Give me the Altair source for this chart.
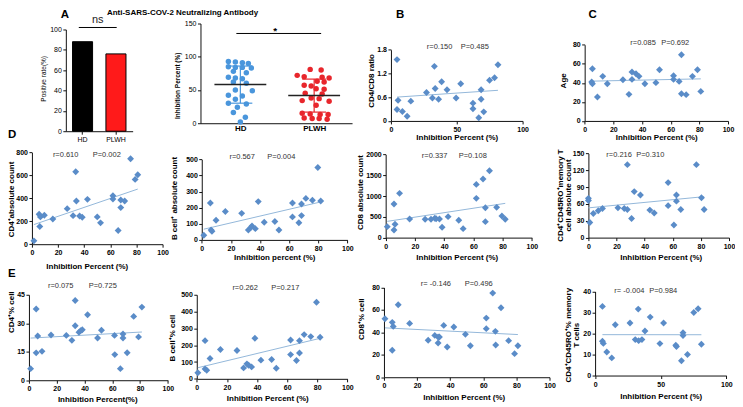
import altair as alt
import pandas as pd

# ---------------- data ----------------
bar_groups = ["HD", "PLWH"]
bar_positive_rate = [88, 76]

hd_inhibition = [93, 92, 91, 90, 85, 84, 84, 83, 78, 76, 69, 68, 67, 62, 60, 50, 49, 42, 41, 36, 30, 29, 24, 16, 9, 2]
hd_jitter_px = [-12, -5, 2, 8, -12, -5, 2, 11, -7, 6, -12, -5, 2, -7, 6, -5, 12, -12, 2, -5, -12, 6, -3, -7, 5, 0]
plwh_inhibition = [81, 80, 72, 70, 69, 68, 63, 62, 57, 56, 52, 51, 45, 44, 38, 37, 34, 33, 27, 15, 14, 13, 13, 8, 7, 7, 6]
plwh_jitter_px = [-4, 7, -17, -10, 8, 15, 3, 10, -10, -3, 2, 10, -9, 8, -3, 5, -12, 15, 2, -12, -4, 6, 14, -10, -2, 5, 13]

b_x = [4.6, 5.4, 4.6, 8.7, 12.3, 15.1, 27, 31.5, 33, 33.6, 36.2, 38.5, 42.6, 49.5, 53, 62.3, 62.3, 66.7, 68.5, 68.5, 70.5, 74.9, 78.7, 81.3]
b_y = [1.55, 0.52, 0.29, 0.24, 0.12, 0.50, 0.72, 0.58, 1.38, 0.82, 0.55, 0.99, 0.79, 0.58, 0.94, 0.45, 0.31, 0.08, 0.79, 0.55, 0.23, 1.03, 1.09, 1.42]

c_x = [5.4, 4.9, 5.4, 8.9, 12.6, 15.8, 26.7, 30.9, 33, 33, 35.8, 37.9, 42, 49.7, 52.2, 62, 62, 65.9, 67.5, 67.5, 70.8, 75.2, 78.7, 81]
c_y = [54.8, 40.9, 39.1, 25.1, 46.8, 39.1, 43.3, 27.9, 51.3, 43.6, 49.6, 46.8, 39.1, 40.2, 53.8, 47.5, 43.6, 41.5, 69.5, 28.6, 27.6, 46.8, 53.8, 31]

d1_x = [1.5, 5.5, 6, 6.5, 9.5, 16, 27, 31.5, 33.5, 34, 36.5, 38.5, 42.5, 50, 52.5, 62, 62, 66, 68, 68, 71, 75.5, 79, 81]
d1_y = [29, 261, 154, 238, 252, 220, 310, 249, 632, 377, 246, 235, 391, 238, 186, 423, 394, 119, 319, 386, 377, 745, 565, 606]

d2_x = [1.4, 5.9, 6.4, 7, 9.8, 16.2, 27.4, 32, 33.8, 34.5, 36.8, 38.8, 42.9, 50.2, 53, 62.3, 62.3, 66.7, 68.5, 68.5, 71.5, 76, 79.7, 81.7]
d2_y = [29, 229, 62, 54, 122, 176, 165, 62, 78, 87, 70, 238, 110, 114, 62, 229, 143, 107, 223, 151, 258, 246, 450, 242]

d3_x = [1.1, 5.7, 5.7, 6.4, 9.5, 16.4, 27, 31, 33.6, 34.5, 36.8, 38.6, 42.7, 50, 53, 62, 62, 66.6, 68.2, 68.2, 71, 75.9, 79.5, 81.8]
d3_y = [264, 808, 184, 320, 1064, 448, 440, 440, 464, 452, 448, 248, 504, 416, 216, 1280, 944, 1408, 720, 384, 1608, 728, 520, 440]

d4_x = [0, 0, 1, 3.5, 7, 10, 21, 25.5, 27.7, 27.7, 30.7, 32.6, 37, 43.7, 46.8, 56.7, 56.7, 60.8, 62.6, 62.6, 65.7, 76.8, 80.4, 82.3]
d4_y = [70, 66, 27, 43, 48, 52, 53, 52, 50, 130, 34, 82, 76, 49, 44, 98, 57, 22.5, 76, 65, 50, 130, 71, 50]

e1_x = [1.2, 5.2, 5.2, 6.3, 9.4, 15.9, 26.9, 30.9, 33.3, 33.3, 36, 37.2, 38.4, 42.2, 49.4, 52.2, 61.6, 61.8, 65.8, 67.7, 67.7, 70.7, 75.4, 78.9, 81.3]
e1_y = [6.1, 37.5, 14.4, 23.3, 15.2, 23.8, 23.6, 21, 42, 28.7, 25.2, 26.1, 26.6, 34.5, 22.2, 26.3, 23.6, 13.5, 6.1, 24.3, 22.2, 14.5, 33.6, 22.8, 38.5]

e2_x = [0.7, 5.5, 5.5, 6.6, 8.8, 15.7, 26.7, 31.1, 33.3, 34.4, 36.4, 38.6, 42.6, 49.7, 52.8, 62.3, 62.3, 66.2, 68.2, 68.2, 71.3, 75.7, 79.5, 81.9]
e2_y = [36, 227, 59, 51, 121, 174, 168, 65, 89, 81, 71, 241, 111, 115, 63, 231, 144, 109, 227, 154, 263, 251, 455, 247]

e3_x = [0.6, 5, 5, 5.6, 8.6, 15.5, 26.7, 30.7, 32.7, 32.7, 33.5, 36.1, 38.2, 42.2, 49.2, 52.2, 61.8, 61.8, 65.7, 67.3, 67.5, 70.7, 75.3, 78.9, 80.9]
e3_y = [52.1, 48.9, 24, 45.3, 64.6, 48, 32.9, 37.3, 35.9, 30.5, 35.9, 46.2, 27, 44.7, 38.2, 28.1, 52.7, 43.3, 75, 40.9, 28.7, 61.9, 32.6, 21, 28.1]

e4_x = [5.6, 5.6, 6.3, 8.9, 12.7, 15.4, 26.6, 30.6, 32.9, 33.2, 35.7, 38, 42, 49.4, 52.2, 61.5, 62, 65.8, 67, 67, 70.4, 75.2, 78.5, 81]
e4_y = [32.9, 16.3, 15.3, 11.2, 8.4, 24.2, 25, 17.1, 31.6, 16.6, 17.1, 21.2, 27.8, 15.2, 25, 14.4, 13.8, 7, 20.4, 19, 10, 30, 31.8, 14.9]

# ---------------- styling / layout ----------------
FONT = "Liberation Sans"
PT = "#5a8cc8"
TREND = "#94b8da"
HD_C = "#4a96dc"
PL_C = "#e8262c"
AX = "#111111"
PLAIN = "'' + datum.value"

COLS = [8, 175, 370, 570, 737]
ROWS = [8, 140, 280, 400]
X100 = [0, 20, 40, 60, 80, 100]


def geom(col, row):
    return COLS[col], ROWS[row], COLS[col + 1] - COLS[col], ROWS[row + 1] - ROWS[row]


def note(s, x, y, size=7.5, weight="normal", align="left", baseline="middle", color="#333333"):
    return alt.Chart(pd.DataFrame({"t": [s]})).mark_text(
        align=align, baseline=baseline, fontSize=size, fontWeight=weight, color=color, font=FONT
    ).encode(x=alt.value(x), y=alt.value(y), text="t:N")


def scatter(p):
    cx, cy, cw, ch = geom(p["col"], p["row"])
    l, t, r, b = p["rect"]
    df = pd.DataFrame({"x": p["x"], "y": p["y"]})
    xax = alt.Axis(values=p.get("xticks", X100), title=p["xtitle"], offset=-(ch - (b - cy)), labelExpr=PLAIN,
                   titleX=p["xt"][0] - cx, titleY=p["xt"][1] - b)
    yax = alt.Axis(values=p["yticks"], title=p["ytitle"], offset=-(l - cx), labelExpr=PLAIN,
                   titleX=p["yt"][0] - l, titleY=p["yt"][1] - cy, titleAngle=270)
    enc = dict(
        x=alt.X("x:Q", scale=alt.Scale(domain=[0, 100], range=[l - cx, r - cx], nice=False, zero=False), axis=xax),
        y=alt.Y("y:Q", scale=alt.Scale(domain=p["ydom"], range=[b - cy, t - cy], nice=False, zero=False), axis=yax),
    )
    base = alt.Chart(df)
    trend = base.transform_regression("x", "y").mark_line(color=TREND, strokeWidth=1).encode(**enc)
    pts = base.mark_point(shape="diamond", filled=True, size=48, color=PT, opacity=1).encode(**enc)
    layers = [trend, pts,
              note(p["r"], p["rxy"][0] - cx, p["rxy"][1] - cy),
              note(p["p"], p["pxy"][0] - cx, p["pxy"][1] - cy)]
    if "letter" in p:
        s, lx, ly = p["letter"]
        layers.append(note(s, lx - cx, ly - cy, size=11.5, weight="bold", baseline="top", color="#000"))
    return alt.layer(*layers).properties(width=cw, height=ch)


def bar_panel():
    cx, cy, cw, ch = geom(0, 0)
    l, t, r, b = 66, 29, 133, 131
    df = pd.DataFrame({"g": bar_groups, "v": bar_positive_rate})
    x = alt.X("g:N", sort=bar_groups,
              scale=alt.Scale(range=[l - cx, r - cx], paddingInner=0.4, paddingOuter=0.2),
              axis=alt.Axis(title=None, labelAngle=0, labelFontWeight="normal", labelFontSize=7,
                            offset=-(ch - (b - cy)), labelPadding=1))
    y = alt.Y("v:Q", scale=alt.Scale(domain=[0, 100], range=[b - cy, t - cy], nice=False),
              axis=alt.Axis(values=[0, 20, 40, 60, 80, 100], title="Positive rate(%)", titleFontWeight="normal",
                            titleFontSize=6.5, labelFontWeight="normal", offset=-(l - cx), labelExpr=PLAIN,
                            titleX=44 - l, titleY=78 - cy, titleAngle=270))
    bars = alt.Chart(df).mark_bar(stroke="#000", strokeWidth=1).encode(
        x=x, y=y,
        color=alt.Color("g:N", scale=alt.Scale(domain=bar_groups, range=["#000000", "#ff1a1a"]), legend=None))
    anchor = alt.Chart(pd.DataFrame({"a": [0]})).mark_rect(opacity=0).encode(
        x=alt.value(0), x2=alt.value(1), y=alt.value(0), y2=alt.value(1))
    bracket = alt.Chart(pd.DataFrame({"a": [0]})).mark_rule(color="#000", strokeWidth=1).encode(
        x=alt.value(79 - cx), x2=alt.value(117 - cx), y=alt.value(27 - cy))
    return alt.layer(
        anchor, bars, bracket,
        note("ns", 98 - cx, 22 - cy, size=11, align="center", baseline="alphabetic", color="#222"),
        note("A", 61 - cx, 8 - cy, size=11.5, weight="bold", baseline="top", color="#000"),
    ).properties(width=cw, height=ch)


def dot_panel():
    cx, cy, cw, ch = geom(1, 0)
    l, t, r, b = 201, 23, 353, 123
    hd_c, pl_c = 241, 315
    step = pl_c - hd_c
    xdom = [1 - (hd_c - l) / step, 2 + (r - pl_c) / step]
    df = pd.DataFrame({
        "cohort": ["HD"] * len(hd_inhibition) + ["PLWH"] * len(plwh_inhibition),
        "gx": [1] * len(hd_inhibition) + [2] * len(plwh_inhibition),
        "val": hd_inhibition + plwh_inhibition,
        "pos": [1 + j / step for j in hd_jitter_px] + [2 + j / step for j in plwh_jitter_px],
    })
    xs = alt.Scale(domain=xdom, range=[l - cx, r - cx], nice=False, zero=False)
    ys = alt.Scale(domain=[0, 150], range=[b - cy, t - cy], nice=False, zero=False)
    xax = alt.Axis(values=[1, 2], labelExpr="datum.value == 1 ? 'HD' : 'PLWH'", title=None, ticks=False,
                   labelPadding=1, labelFontSize=8, offset=-(ch - (b - cy)))
    yax = alt.Axis(values=[0, 50, 100, 150], title="Inhibition Percent  (%)", titleFontSize=6.5, labelExpr=PLAIN,
                   labelFontWeight="normal", offset=-(l - cx), titleX=178 - l, titleY=85 - cy, titleAngle=270)
    col = alt.Color("cohort:N", scale=alt.Scale(domain=["HD", "PLWH"], range=[HD_C, PL_C]), legend=None)
    pts = alt.Chart(df).mark_circle(size=30, opacity=1).encode(
        x=alt.X("pos:Q", scale=xs, axis=xax), y=alt.Y("val:Q", scale=ys, axis=yax), color=col)
    summ = alt.Chart(df).transform_aggregate(
        m="mean(val)", s="stdev(val)", groupby=["cohort", "gx"]
    ).transform_calculate(
        lo="datum.m - datum.s", hi="datum.m + datum.s",
        ma=f"datum.gx - {26 / step}", mb=f"datum.gx + {26 / step}",
        ca=f"datum.gx - {12 / step}", cb=f"datum.gx + {12 / step}")
    sd = summ.mark_rule(strokeWidth=1.2).encode(
        x=alt.X("gx:Q", scale=xs, axis=xax), y=alt.Y("lo:Q", scale=ys, axis=yax), y2="hi:Q", color=col)
    cap_hi = summ.mark_rule(strokeWidth=1.2).encode(
        x=alt.X("ca:Q", scale=xs, axis=xax), x2="cb:Q", y=alt.Y("hi:Q", scale=ys, axis=yax), color=col)
    cap_lo = summ.mark_rule(strokeWidth=1.2).encode(
        x=alt.X("ca:Q", scale=xs, axis=xax), x2="cb:Q", y=alt.Y("lo:Q", scale=ys, axis=yax), color=col)
    mean = summ.mark_rule(color="#222", strokeWidth=1.5).encode(
        x=alt.X("ma:Q", scale=xs, axis=xax), x2="mb:Q", y=alt.Y("m:Q", scale=ys, axis=yax))
    sig = alt.Chart(pd.DataFrame({"a": [0]})).mark_rule(color="#000", strokeWidth=1).encode(
        x=alt.value(237 - cx), x2=alt.value(322 - cx), y=alt.value(33 - cy))
    return alt.layer(
        pts, sd, cap_hi, cap_lo, mean, sig,
        note("*", 276 - cx, 34 - cy, size=10, weight="bold", align="center", baseline="alphabetic", color="#000"),
        note("Anti-SARS-COV-2 Neutralizing Antibody", 183 - cx, 12 - cy, size=8, weight="bold",
             align="center", color="#000"),
    ).properties(width=cw, height=ch)


XT = "Inhibition Percent (%)"
panels = [
    dict(col=2, row=0, rect=(392, 49.3, 524, 120.7), x=b_x, y=b_y, ydom=[0, 1.8], yticks=[0, 0.6, 1.2, 1.8],
         xticks=[0, 50, 100], ytitle="CD4/CD8 ratio", yt=(373, 80), xtitle=XT, xt=(458, 137),
         r="r=0.150", rxy=(428, 47), p="P=0.485", pxy=(462, 47), letter=("B", 397, 8)),
    dict(col=3, row=0, rect=(586.25, 44.3, 730, 120.7), x=c_x, y=c_y, ydom=[0, 80], yticks=[0, 20, 40, 60, 80],
         ytitle="Age", yt=(565, 80), xtitle=XT, xt=(658, 137),
         r="r=0.085", rxy=(632, 43), p="P=0.692", pxy=(663, 43), letter=("C", 590, 8)),
    dict(col=0, row=1, rect=(32, 152.3, 163, 244.3), x=d1_x, y=d1_y, ydom=[0, 800], yticks=[0, 200, 400, 600, 800],
         ytitle="CD4\u207aabsolute count", yt=(12, 199), xtitle=XT, xt=(87, 267),
         r="r=0.610", rxy=(53, 155), p="P=0.002", pxy=(93, 155), letter=("D", 8, 129)),
    dict(col=1, row=1, rect=(202.3, 159.3, 348.3, 240), x=d2_x, y=d2_y, ydom=[0, 500],
         yticks=[0, 100, 200, 300, 400, 500], ytitle="B cell\u207a absolute count", yt=(175, 198),
         xtitle="Inhibition percent (%)", xt=(275, 258),
         r="r=0.567", rxy=(230, 157), p="P=0.004", pxy=(268, 157)),
    dict(col=2, row=1, rect=(386.7, 154.3, 533.3, 237.7), x=d3_x, y=d3_y, ydom=[0, 2000],
         yticks=[0, 500, 1000, 1500, 2000], ytitle="CD8 absolute count", yt=(361, 192), xtitle=XT, xt=(458, 258),
         r="r=0.337", rxy=(423, 156), p="P=0.108", pxy=(460, 156)),
    dict(col=3, row=1, rect=(590, 153.3, 731, 237.7), x=d4_x, y=d4_y, ydom=[0, 150],
         yticks=[0, 30, 60, 90, 120, 150], ytitle=["CD4\u207aCD45RO\u207amemory T", "cell absolute count"],
         yt=(562, 195), xtitle=XT, xt=(662.5, 258),
         r="r=0.216", rxy=(608, 155), p="P=0.310", pxy=(638, 155)),
    dict(col=0, row=2, rect=(29, 295, 168.3, 380.7), x=e1_x, y=e1_y, ydom=[0, 45], yticks=[0, 15, 30, 45],
         ytitle="CD4\u207a% cell", yt=(12, 312), xtitle="Inhibition Percent(%)", xt=(97.5, 400),
         r="r=0.075", rxy=(48, 286), p="P=0.725", pxy=(89, 286), letter=("E", 8, 268)),
    dict(col=1, row=2, rect=(197.3, 295, 348.3, 379.3), x=e2_x, y=e2_y, ydom=[0, 500],
         yticks=[0, 100, 200, 300, 400, 500], ytitle="B cell\u207a% cell", yt=(173, 338), xtitle=XT, xt=(268, 399),
         r="r=0.262", rxy=(233, 288), p="P=0.217", pxy=(272, 288)),
    dict(col=2, row=2, rect=(385, 287.7, 551, 377.7), x=e3_x, y=e3_y, ydom=[0, 80], yticks=[0, 20, 40, 60, 80],
         ytitle="CD8\u207a% cell", yt=(362, 319), xtitle=XT, xt=(465, 398),
         r="r= -0.146", rxy=(422, 284), p="P=0.496", pxy=(466, 284)),
    dict(col=3, row=2, rect=(596.7, 291.7, 728.3, 376), x=e4_x, y=e4_y, ydom=[0, 40], yticks=[0, 10, 20, 30, 40],
         xticks=[0, 50, 100], ytitle=["CD4\u207aCD45RO\u207a% memory", "T cells"], yt=(570, 335),
         xtitle=XT, xt=(662.5, 397),
         r="r= -0.004", rxy=(616, 291), p="P=0.984", pxy=(651, 291)),
]

cells = [bar_panel(), dot_panel()] + [scatter(p) for p in panels]

chart = alt.concat(*cells, columns=4, spacing=0, bounds="flush").resolve_scale(
    color="independent"
).properties(
    padding=0
).configure(
    font=FONT, background="white"
).configure_view(
    stroke=None
).configure_axis(
    grid=False, domainColor=AX, tickColor=AX, domainWidth=1, tickWidth=1, tickSize=3,
    labelFontSize=7, labelFontWeight="bold", labelColor="#000", labelPadding=1.5,
    labelFlush=False, labelOverlap=False, labelFont=FONT,
    titleFontSize=8, titleFontWeight="bold", titleColor="#000", titleFont=FONT,
    titleBaseline="middle", titleAlign="center", titleLineHeight=8.5,
)

chart.save("out.html", embed_options={"renderer": "svg", "actions": False})
